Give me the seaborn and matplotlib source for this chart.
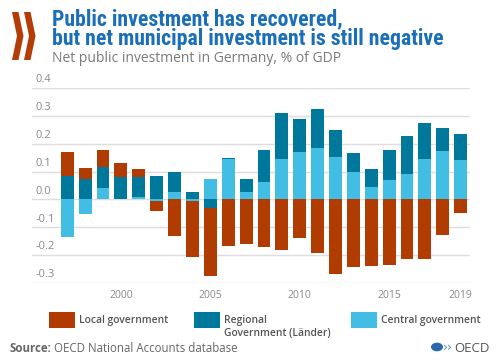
import numpy as np
import pandas as pd
import matplotlib
matplotlib.use("Agg")
import matplotlib.pyplot as plt
import seaborn as sns
from matplotlib import font_manager
from matplotlib.patches import Polygon, Rectangle, Circle

# ---- data ----
years = list(range(1997, 2020))
local_gov = [0.084, 0.038, 0.062, 0.050, 0.032, -0.034, -0.130, -0.202, -0.242, -0.167,
             -0.161, -0.170, -0.182, -0.140, -0.194, -0.268, -0.244, -0.240, -0.237,
             -0.215, -0.215, -0.129, -0.048]
regional_gov = [0.085, 0.075, 0.075, 0.079, 0.072, 0.085, 0.074, 0.026, -0.032, 0.005,
                0.048, 0.116, 0.167, 0.117, 0.142, 0.096, 0.068, 0.067, 0.110, 0.133,
                0.128, 0.082, 0.092]
central_gov = [-0.134, -0.051, 0.042, 0.000, 0.007, -0.007, 0.025, -0.006, 0.075, 0.145,
               0.025, 0.061, 0.145, 0.172, 0.184, 0.153, 0.100, 0.044, 0.068, 0.093,
               0.146, 0.174, 0.143]
series_names = ["Local government", "Regional\nGovernment (Länder)", "Central government"]
xtick_years = [2000, 2005, 2010, 2015, 2019]
ytick_vals = [-0.3, -0.2, -0.1, 0.0, 0.1, 0.2, 0.3, 0.4]

c_local = "#B03C02"
c_regional = "#00789C"
c_central = "#42BDE3"

df = pd.DataFrame({"year": years, "local": local_gov,
                   "regional": regional_gov, "central": central_gov})

# stacking order from zero outwards: central, regional, local
pos = lambda s: df[s].clip(lower=0)
neg = lambda s: df[s].clip(upper=0)
df["p1"] = pos("central")
df["p2"] = df["p1"] + pos("regional")
df["p3"] = df["p2"] + pos("local")
df["n1"] = neg("central")
df["n2"] = df["n1"] + neg("regional")
df["n3"] = df["n2"] + neg("local")

sns.set_theme(style="white")
plt.rcParams["font.family"] = ["Open Sans", "DejaVu Sans"]

fig = plt.figure(figsize=(5.0, 3.61), dpi=100)
W, H = 500, 361
ax = fig.add_axes([32 / W, 1 - 283 / H, (470 - 32) / W, (283 - 88) / H])

# draw cumulative layers (outermost first) so that they appear stacked
for col, color in [("p3", c_local), ("p2", c_regional), ("p1", c_central),
                   ("n3", c_local), ("n2", c_regional), ("n1", c_central)]:
    sns.barplot(data=df, x="year", y=col, color=color, native_scale=True,
                orient="x", errorbar=None, width=0.72, saturation=1,
                linewidth=0, ax=ax, zorder=3)

ax.set_xlim(1995.03, 2019.52)
ax.set_ylim(-0.3, 0.4)
for sp in ax.spines.values():
    sp.set_visible(False)
ax.set_xlabel("")
ax.set_ylabel("")
ax.set_yticks(ytick_vals)
ax.yaxis.grid(True, color="#DDDDDD", linewidth=1.0, zorder=0)
ax.xaxis.grid(False)
ax.set_yticklabels([])
ax.tick_params(axis="y", length=0)
ax.set_xticks(xtick_years)
ax.set_xticklabels([str(y) for y in xtick_years], color="#8A8A8A", fontsize=7.5)
ax.tick_params(axis="x", length=0, pad=5)
ax.set_axisbelow(True)

for v in ytick_vals:
    ax.annotate(f"{v:.1f}", xy=(0.009, v), xycoords=("axes fraction", "data"),
                xytext=(0, 2), textcoords="offset points", ha="left", va="bottom",
                color="#8A8A8A", fontsize=8)

# ---- header ----
def fy(py):
    return 1 - py / H

for dx in (0, 12):
    pts = [(12 + dx, 12), (18.5 + dx, 12), (23.5 + dx, 36), (18.5 + dx, 60),
           (12 + dx, 60), (17 + dx, 36)]
    fig.patches.append(Polygon([(x / W, fy(y)) for x, y in pts], closed=True,
                               transform=fig.transFigure, facecolor="#B33D07",
                               edgecolor="none"))

available = {f.name for f in font_manager.fontManager.ttflist}
title_family = "Roboto"
for cand in ["Liberation Sans Narrow", "DejaVu Sans Condensed", "Roboto Condensed",
             "Open Sans Condensed", "Roboto"]:
    if cand in available:
        title_family = cand
        break

renderer = fig.canvas.get_renderer()
t1 = fig.text(52 / W, fy(25.5), "Public investment has recovered,", fontsize=16,
              fontweight="bold", color="#1A6FB8", family=[title_family, "DejaVu Sans"],
              va="baseline")
t2 = fig.text(52 / W, fy(44.5), "but net municipal investment is still negative", fontsize=16,
              fontweight="bold", color="#1A6FB8", family=[title_family, "DejaVu Sans"],
              va="baseline")
# fit the second title line to the reference width (390 px)
w2 = t2.get_window_extent(renderer).width
fs = 16 * 390 / w2
t1.set_fontsize(fs)
t2.set_fontsize(fs)

fig.text(52 / W, fy(62), "Net public investment in Germany, % of GDP", fontsize=10,
         color="#7A7A7A", va="baseline")

# ---- legend ----
leg = [(49, c_local, series_names[0]), (194, c_regional, series_names[1]),
       (351, c_central, series_names[2])]
for x0, color, name in leg:
    fig.patches.append(Rectangle((x0 / W, fy(328)), 26 / W, 16 / H,
                                 transform=fig.transFigure, facecolor=color,
                                 edgecolor="none"))
    fig.text((x0 + 30) / W, fy(314.5), name, fontsize=7.4, fontweight="semibold",
             color="#555555", va="top", linespacing=1.3)

# ---- source ----
ts = fig.text(9 / W, fy(352), "Source:", fontsize=8.3, fontweight="bold",
              color="#666666", va="baseline")
ws = ts.get_window_extent(renderer).width
fig.text((9 + ws + 3) / W, fy(352), "OECD National Accounts database", fontsize=8.3,
         color="#666666", va="baseline")

# ---- OECD logo ----
fig.patches.append(Circle((437 / W, fy(347)), 6 / W, transform=fig.transFigure,
                          facecolor="#2A6AA8", edgecolor="none"))
fig.text(443 / W, fy(351), "\u203a\u203a", fontsize=9, color="#3C8FC8",
         va="baseline", family=["DejaVu Sans"])
fig.text(454 / W, fy(352), "OECD", fontsize=9.5, color="#555555", va="baseline")

fig.savefig("out.png", dpi=100)
